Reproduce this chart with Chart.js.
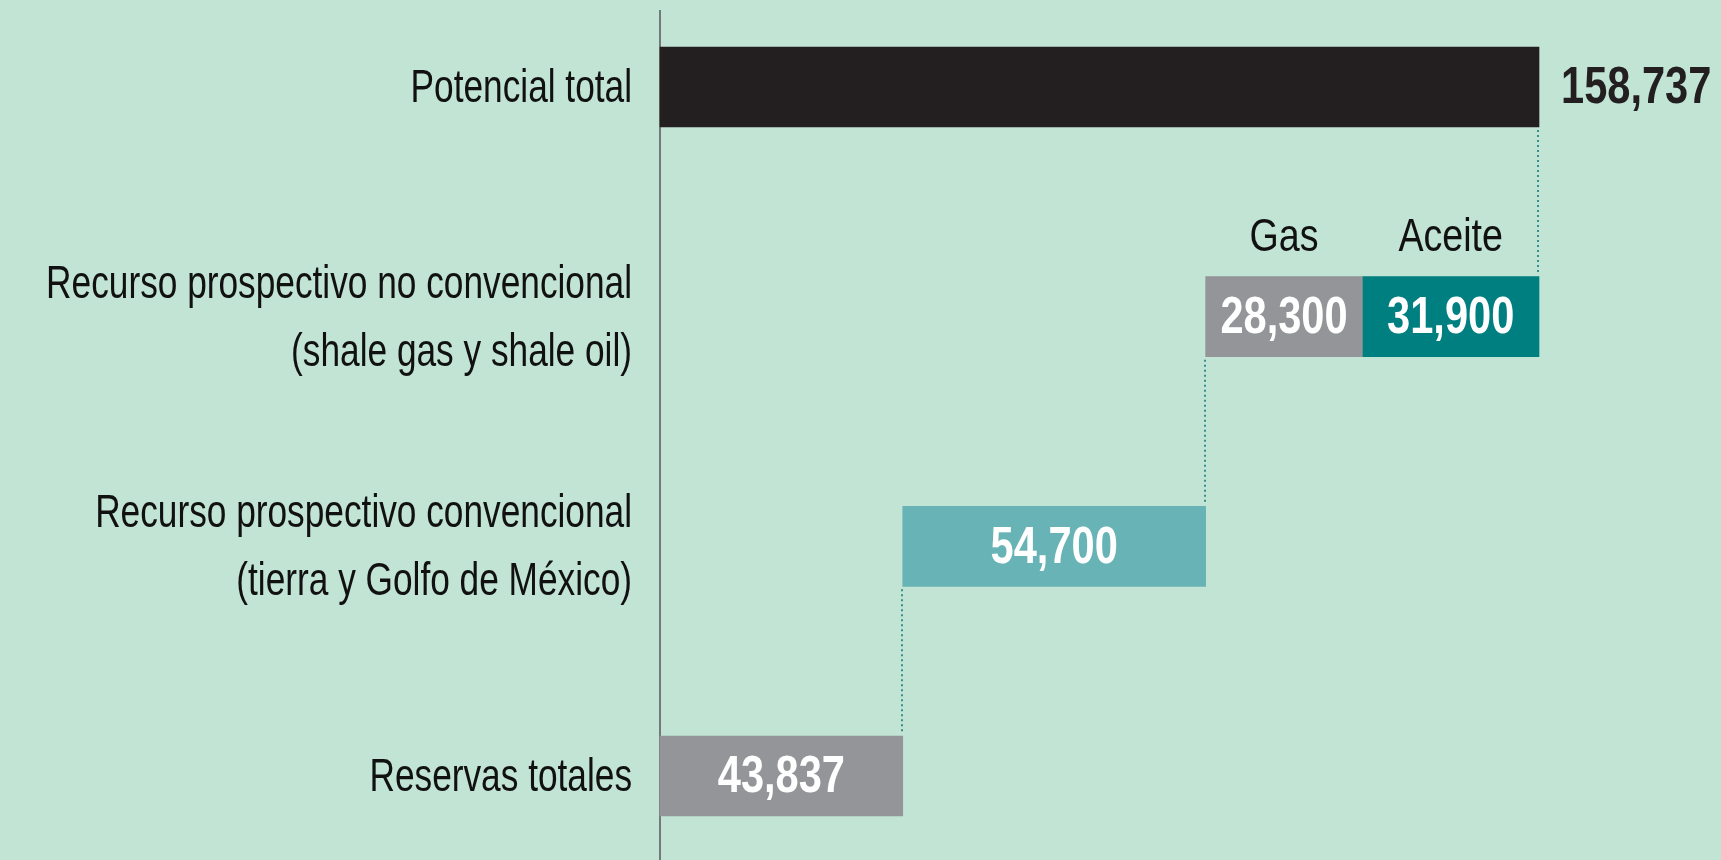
<!DOCTYPE html>
<html>
<head>
<meta charset="utf-8">
<script src="https://cdn.jsdelivr.net/npm/chart.js@4"></script>
<style>
  html, body { margin: 0; padding: 0; background: #c1e4d5; }
  #wrap { width: 1721px; height: 860px; position: relative; }
</style>
</head>
<body>
<div id="wrap"><canvas id="recursosChart"></canvas></div>
<script>
// categorias (de arriba hacia abajo)
const categories = [
  'Potencial total',
  ['Recurso prospectivo no convencional', '(shale gas y shale oil)'],
  ['Recurso prospectivo convencional', '(tierra y Golfo de México)'],
  'Reservas totales'
];
// millones de barriles de petroleo crudo equivalente
const reservasTotales = 43837;
const convencional = 54700;
const shaleGas = 28300;
const shaleOil = 31900;
const potencialTotal = 158737;
const subLabels = ['Gas', 'Aceite'];

const FONT = "'Liberation Sans', Arial, sans-serif";
const BAR = 80;
const SQUEEZE = 0.75;    // imita la letra condensada del original
const SQUEEZE_NUM = 0.8;

const stepA = reservasTotales;
const stepB = reservasTotales + convencional;
const stepC = stepB + shaleGas;

const fmt = v => v.toLocaleString('en-US');

// texto comprimido horizontalmente
function narrowText(ctx, text, x, y, sx) {
  ctx.save();
  ctx.translate(x, y);
  ctx.scale(sx, 1);
  ctx.fillText(text, 0, 0);
  ctx.restore();
}

const overlay = {
  id: 'overlay',
  beforeDatasetsDraw(chart) {
    const ctx = chart.ctx, x = chart.scales.x, y = chart.scales.y;
    // eje vertical
    ctx.save();
    ctx.strokeStyle = '#58595b';
    ctx.lineWidth = 1.5;
    ctx.beginPath();
    ctx.moveTo(x.getPixelForValue(0), 10);
    ctx.lineTo(x.getPixelForValue(0), chart.height);
    ctx.stroke();
    // conectores punteados
    ctx.strokeStyle = '#3a8d8d';
    ctx.lineWidth = 2;
    ctx.setLineDash([2, 3]);
    [[potencialTotal, 0], [stepB, 1], [stepA, 2]].forEach(([v, i]) => {
      const px = Math.round(x.getPixelForValue(v)) - 1;
      ctx.beginPath();
      ctx.moveTo(px, y.getPixelForValue(i) + BAR / 2 + 3);
      ctx.lineTo(px, y.getPixelForValue(i + 1) - BAR / 2 - 3);
      ctx.stroke();
    });
    ctx.restore();

    // etiquetas de categoria
    ctx.save();
    ctx.font = '47px ' + FONT;
    ctx.fillStyle = '#111111';
    ctx.textAlign = 'right';
    ctx.textBaseline = 'middle';
    const right = x.getPixelForValue(0) - 28;
    y.getLabels().forEach((lab, i) => {
      const lines = Array.isArray(lab) ? lab : [lab];
      const yc = y.getPixelForValue(i);
      const lh = 68;
      lines.forEach((ln, k) => {
        narrowText(ctx, ln, right, yc + (k - (lines.length - 1) / 2) * lh + 2, SQUEEZE);
      });
    });
    ctx.restore();
  },
  afterDatasetsDraw(chart) {
    const ctx = chart.ctx, x = chart.scales.x, y = chart.scales.y;
    ctx.save();
    ctx.textBaseline = 'middle';
    ctx.font = 'bold 52px ' + FONT;
    // total a la derecha
    ctx.fillStyle = '#231f20';
    ctx.textAlign = 'left';
    narrowText(ctx, fmt(potencialTotal), x.getPixelForValue(potencialTotal) + 22, y.getPixelForValue(0) + 2, SQUEEZE_NUM);
    // valores dentro de las barras
    ctx.fillStyle = '#ffffff';
    ctx.textAlign = 'center';
    const inside = [
      [0, reservasTotales, 3],
      [stepA, stepB, 2],
      [stepB, stepC, 1],
      [stepC, potencialTotal, 1]
    ];
    const vals = [reservasTotales, convencional, shaleGas, shaleOil];
    inside.forEach(([a, b, i], k) => {
      const cx = (x.getPixelForValue(a) + x.getPixelForValue(b)) / 2;
      narrowText(ctx, fmt(vals[k]), cx, y.getPixelForValue(i) + 2, SQUEEZE_NUM);
    });
    // Gas / Aceite
    ctx.font = '47px ' + FONT;
    ctx.fillStyle = '#111111';
    ctx.textBaseline = 'alphabetic';
    [[stepB, stepC], [stepC, potencialTotal]].forEach(([a, b], k) => {
      const cx = (x.getPixelForValue(a) + x.getPixelForValue(b)) / 2;
      narrowText(ctx, subLabels[k], cx, y.getPixelForValue(1) - BAR / 2 - 26, 0.8);
    });
    ctx.restore();
  }
};

new Chart('recursosChart', {
  type: 'bar',
  data: {
    labels: categories,
    datasets: [
      {
        data: [[0, potencialTotal], null, [stepA, stepB], [0, reservasTotales]],
        backgroundColor: ['#231f20', '#939598', '#67b3b5', '#939598']
      },
      {
        data: [null, [stepB, stepC], null, null],
        backgroundColor: '#939598'
      },
      {
        data: [null, [stepC, potencialTotal], null, null],
        backgroundColor: '#007f80'
      }
    ]
  },
  options: {
    indexAxis: 'y',
    responsive: true,
    maintainAspectRatio: false,
    animation: false,
    datasets: { bar: { grouped: false, barThickness: BAR, clip: false } },
    layout: { padding: { top: 87, bottom: 84, right: 182, left: 0 } },
    plugins: { legend: { display: false }, tooltip: { enabled: false } },
    scales: {
      x: { display: false, min: 0, max: potencialTotal },
      y: {
        offset: false,
        grid: { display: false, drawTicks: false },
        border: { display: false },
        ticks: { display: false },
        afterFit(scale) { scale.width = 660; }
      }
    }
  },
  plugins: [overlay]
});
</script>
</body>
</html>
